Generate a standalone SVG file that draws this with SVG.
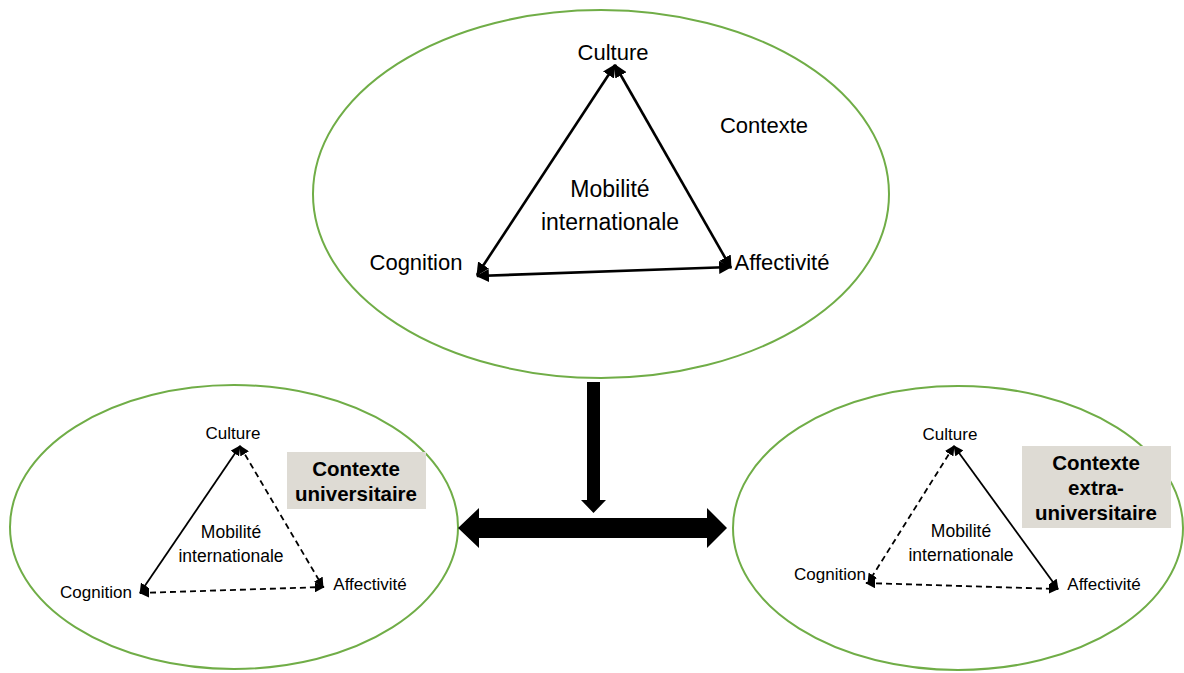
<svg xmlns="http://www.w3.org/2000/svg" width="1184" height="673" viewBox="0 0 1184 673">
<style>
.ell{fill:none;stroke:#70ad47;stroke-width:2}
.lbl{font-family:"Liberation Sans",Arial,sans-serif;fill:#000}
.big{font-size:22px}
.mid{font-size:23px}
.sm{font-size:17px}
.smc{font-size:17.5px}
.bold{font-family:"Liberation Sans",Arial,sans-serif;font-weight:bold;font-size:20.5px;fill:#000}
.box{fill:#dedbd4}
.solidT{stroke:#000;stroke-width:2.6;fill:none}
.solidS{stroke:#000;stroke-width:1.8;fill:none}
.dash{stroke:#000;stroke-width:1.8;fill:none;stroke-dasharray:6 4}
</style>
<defs>
<marker id="ahT" viewBox="0 0 12 12" refX="11" refY="6" markerWidth="13" markerHeight="13" markerUnits="userSpaceOnUse" orient="auto-start-reverse">
<path d="M0,0 L12,6 L0,12 Z" fill="#000"/>
</marker>
<marker id="ahS" viewBox="0 0 12 12" refX="11" refY="6" markerWidth="10" markerHeight="10" markerUnits="userSpaceOnUse" orient="auto-start-reverse">
<path d="M0,0 L12,6 L0,12 Z" fill="#000"/>
</marker>
</defs>
<rect width="1184" height="673" fill="#fff"/>

<g id="top-context">
<ellipse class="ell" cx="601" cy="194" rx="288" ry="184"/>
<text class="lbl big" x="764" y="133" text-anchor="middle">Contexte</text>
<text class="lbl big" x="613" y="60" text-anchor="middle">Culture</text>
<text class="lbl big" x="416" y="270" text-anchor="middle">Cognition</text>
<text class="lbl big" x="782" y="270" text-anchor="middle">Affectivité</text>
<text class="lbl mid" x="610" y="197" text-anchor="middle">Mobilité</text>
<text class="lbl mid" x="610" y="230" text-anchor="middle">internationale</text>
</g>

<g id="left-context">
<ellipse class="ell" cx="234" cy="527" rx="224" ry="142"/>
<rect class="box" x="287" y="452" width="139" height="57"/>
<text class="bold" x="356" y="476" text-anchor="middle">Contexte</text>
<text class="bold" x="356" y="501" text-anchor="middle">universitaire</text>
<text class="lbl sm" x="233" y="439" text-anchor="middle">Culture</text>
<text class="lbl sm" x="96" y="598" text-anchor="middle">Cognition</text>
<text class="lbl sm" x="370" y="590" text-anchor="middle">Affectivité</text>
<text class="lbl smc" x="231" y="538" text-anchor="middle">Mobilité</text>
<text class="lbl smc" x="231" y="562" text-anchor="middle">internationale</text>
</g>

<g id="right-context">
<ellipse class="ell" cx="958" cy="528" rx="225" ry="142"/>
<rect class="box" x="1022" y="446" width="149" height="82"/>
<text class="bold" x="1096" y="470" text-anchor="middle">Contexte</text>
<text class="bold" x="1096" y="495" text-anchor="middle">extra-</text>
<text class="bold" x="1096" y="520" text-anchor="middle">universitaire</text>
<text class="lbl sm" x="950" y="440" text-anchor="middle">Culture</text>
<text class="lbl sm" x="830" y="580" text-anchor="middle">Cognition</text>
<text class="lbl sm" x="1104" y="590" text-anchor="middle">Affectivité</text>
<text class="lbl smc" x="961" y="537" text-anchor="middle">Mobilité</text>
<text class="lbl smc" x="961" y="561" text-anchor="middle">internationale</text>
</g>

<g id="connectors">
<line class="solidT" x1="615" y1="65" x2="477" y2="275" marker-start="url(#ahT)" marker-end="url(#ahT)"/>
<line class="solidT" x1="615" y1="65" x2="731" y2="268" marker-start="url(#ahT)" marker-end="url(#ahT)"/>
<line class="solidT" x1="477" y1="276" x2="731" y2="267" marker-start="url(#ahT)" marker-end="url(#ahT)"/>

<line class="solidS" x1="240" y1="446" x2="140" y2="593" marker-start="url(#ahS)" marker-end="url(#ahS)"/>
<line class="dash" x1="240" y1="446" x2="323" y2="587" marker-start="url(#ahS)" marker-end="url(#ahS)"/>
<line class="dash" x1="140" y1="593" x2="324" y2="587" marker-start="url(#ahS)" marker-end="url(#ahS)"/>

<line class="dash" x1="954" y1="446" x2="868" y2="583" marker-start="url(#ahS)" marker-end="url(#ahS)"/>
<line class="solidS" x1="954" y1="446" x2="1058" y2="589" marker-start="url(#ahS)" marker-end="url(#ahS)"/>
<line class="dash" x1="866" y1="583" x2="1058" y2="589" marker-start="url(#ahS)" marker-end="url(#ahS)"/>

<path d="M587,382 H600 V500 H606 L593.5,513 L581,500 H587 Z" fill="#000"/>
<path d="M458,528 L479,508 V518 H707 V508 L727,528 L707,548 V538 H479 V548 Z" fill="#000"/>
</g>
</svg>
